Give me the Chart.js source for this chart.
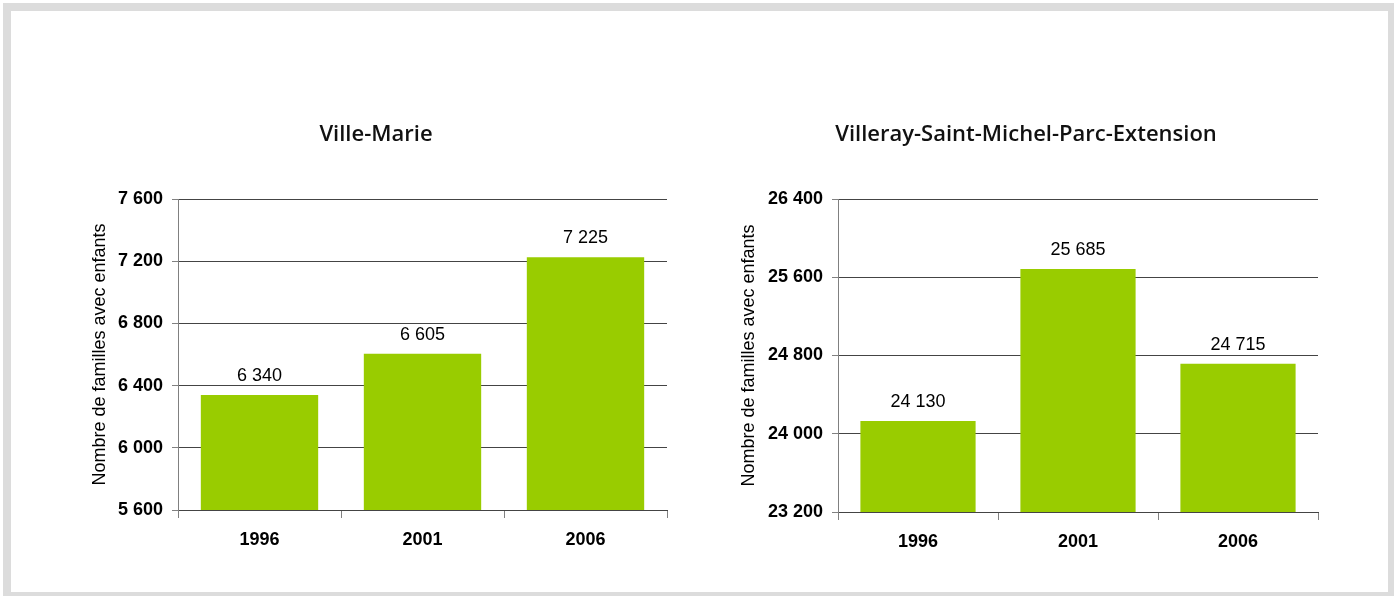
<!DOCTYPE html>
<html>
<head>
<meta charset="utf-8">
<script src="https://cdn.jsdelivr.net/npm/chart.js@4.4.1/dist/chart.umd.min.js"></script>
<style>
  body { margin: 0; background: #fff; width: 1397px; height: 596px; overflow: hidden; position: relative; }
  #frame { position: absolute; left: 3px; top: 3px; width: 1391px; height: 597px; box-sizing: border-box;
           border-style: solid; border-color: #dcdcdc; border-width: 8px 6px 8px 8px; }
  canvas { position: absolute; top: 0; }
</style>
</head>
<body>
<div id="frame"></div>
<canvas id="c1" width="665" height="596" style="left:85px"></canvas>
<canvas id="c2" width="656" height="596" style="left:734px"></canvas>
<script>
var years = ["1996", "2001", "2006"];
var villeMarie = [6340, 6605, 7225];
var villeray = [24130, 25685, 24715];
var yTitle = "Nombre de familles avec enfants";

function fmt(v) {
    return String(v).replace(/\B(?=(\d{3})+(?!\d))/g, ' ');
}

// draws the value above each bar
var valueLabels = {
    id: 'valueLabels',
    afterDatasetsDraw: function (chart) {
        var ctx = chart.ctx;
        ctx.save();
        ctx.font = '18px "Liberation Sans", Arial, sans-serif';
        ctx.fillStyle = '#000';
        ctx.textAlign = 'center';
        ctx.textBaseline = 'middle';
        chart.getDatasetMeta(0).data.forEach(function (bar, i) {
            ctx.fillText(fmt(chart.data.datasets[0].data[i]), bar.x, bar.y - 19);
        });
        ctx.restore();
    }
};

function makeChart(id, title, values, min, max, step, yWidth, xHeight, padRight) {
    return new Chart(document.getElementById(id), {
        type: 'bar',
        data: {
            labels: years,
            datasets: [{
                data: values,
                backgroundColor: '#99cc00',
                barPercentage: 0.72,
                categoryPercentage: 1
            }]
        },
        plugins: [valueLabels],
        options: {
            responsive: false,
            devicePixelRatio: 1,
            animation: false,
            layout: { padding: { left: 0, right: padRight, top: 0, bottom: 0 } },
            plugins: {
                legend: { display: false },
                tooltip: { enabled: false },
                title: {
                    display: true,
                    text: title,
                    color: '#111',
                    font: { family: '"Open Sans", sans-serif', size: 22, weight: '600' },
                    padding: { top: 121.8, bottom: 50.8 }
                }
            },
            scales: {
                x: {
                    grid: { offset: true, drawOnChartArea: false, tickLength: 8, tickColor: '#808080' },
                    border: { color: '#444' },
                    ticks: { color: '#000', padding: 11, font: { family: '"Liberation Sans", Arial, sans-serif', size: 18, weight: 'bold' } },
                    afterFit: function (s) { s.height = xHeight; }
                },
                y: {
                    min: min,
                    max: max,
                    ticks: {
                        stepSize: step,
                        color: '#000',
                        padding: 9,
                        font: { family: '"Liberation Sans", Arial, sans-serif', size: 18, weight: 'bold' },
                        callback: function (v) { return fmt(v); }
                    },
                    grid: { color: '#444', tickLength: 6, tickColor: '#808080' },
                    border: { color: '#808080' },
                    title: {
                        display: true,
                        text: yTitle,
                        color: '#000',
                        font: { family: '"Liberation Sans", Arial, sans-serif', size: 18 },
                        padding: { top: 4, bottom: 0 }
                    },
                    afterFit: function (s) { s.width = yWidth; }
                }
            }
        }
    });
}

makeChart('c1', 'Ville-Marie', villeMarie, 5600, 7600, 400, 93, 86, 83);
makeChart('c2', 'Villeray-Saint-Michel-Parc-Extension', villeray, 23200, 26400, 800, 104, 84, 72);
</script>
</body>
</html>
